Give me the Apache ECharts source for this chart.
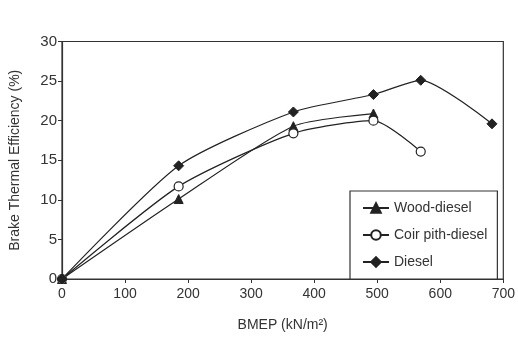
<!DOCTYPE html>
<html><head><meta charset="utf-8">
<script src="https://cdn.jsdelivr.net/npm/echarts@6/dist/echarts.min.js"></script>
<style>html,body{margin:0;padding:0;background:#fff}#c{width:518px;height:350px}</style>
</head><body><div id="c"></div>
<script>
const woodX = [0, 185, 367, 494];
const woodY = [0, 10.1, 19.3, 20.9];
const coirX = [0, 185, 367, 494, 569];
const coirY = [0, 11.7, 18.4, 20.0, 16.1];
const dieselX = [0, 185, 367, 494, 569, 682];
const dieselY = [0, 14.3, 21.1, 23.3, 25.1, 19.6];
const seriesNames = ['Wood-diesel', 'Coir pith-diesel', 'Diesel'];
const xTicks = [0, 100, 200, 300, 400, 500, 600, 700];
const yTicks = [0, 5, 10, 15, 20, 25, 30];

const FONT = "'Liberation Sans Narrow','Liberation Sans',Arial,sans-serif";
const pair = (xs, ys) => xs.map((x, i) => [x, ys[i]]);
const ink = '#222';

const chart = echarts.init(document.getElementById('c'), null, {renderer: 'canvas'});
const common = {
  type: 'line', smooth: 0.22, lineStyle: {color: ink, width: 1.2},
  itemStyle: {color: ink, borderColor: ink, borderWidth: 1}, z: 3
};
chart.setOption({
  animation: false,
  backgroundColor: '#fff',
  grid: {left: 61, right: 13, top: 41.5, bottom: 71, show: true, borderColor: '#333', borderWidth: 1.2, backgroundColor: 'transparent'},
  xAxis: {
    type: 'value', min: xTicks[0], max: xTicks[xTicks.length - 1], interval: 100,
    name: 'BMEP (kN/m²)', nameLocation: 'middle', nameGap: 39,
    nameTextStyle: {fontFamily: FONT, fontSize: 14, color: '#333'},
    axisLine: {lineStyle: {color: '#333', width: 1.2}},
    axisTick: {length: 4, lineStyle: {color: '#333'}},
    axisLabel: {fontFamily: FONT, fontSize: 14, color: '#333', margin: 8},
    splitLine: {show: false}
  },
  yAxis: {
    type: 'value', min: yTicks[0], max: yTicks[yTicks.length - 1], interval: 5,
    name: 'Brake Thermal Efficiency (%)', nameLocation: 'middle', nameGap: 40,
    nameTextStyle: {fontFamily: FONT, fontSize: 14, color: '#333'},
    axisLine: {lineStyle: {color: '#333', width: 1.2}},
    axisTick: {length: 4, lineStyle: {color: '#333'}},
    axisLabel: {fontFamily: FONT, fontSize: 15, color: '#333', margin: 5},
    splitLine: {show: false}
  },
  legend: {
    left: 350, top: 191,
    orient: 'vertical', itemGap: 13, itemWidth: 26, itemHeight: 12,
    padding: [10, 10, 10, 12],
    backgroundColor: '#fff', borderColor: '#333', borderWidth: 1.2,
    textStyle: {fontFamily: FONT, fontSize: 14, color: '#333'},
    data: seriesNames.map(n => ({name: n}))
  },
  series: [
    Object.assign({}, common, {name: seriesNames[0], data: pair(woodX, woodY), symbol: 'triangle', symbolSize: 9}),
    Object.assign({}, common, {name: seriesNames[1], data: pair(coirX, coirY), symbol: 'circle', symbolSize: 9,
      itemStyle: {color: '#fff', borderColor: ink, borderWidth: 1.2}}),
    Object.assign({}, common, {name: seriesNames[2], data: pair(dieselX, dieselY), symbol: 'diamond', symbolSize: 10})
  ]
});
</script></body></html>
